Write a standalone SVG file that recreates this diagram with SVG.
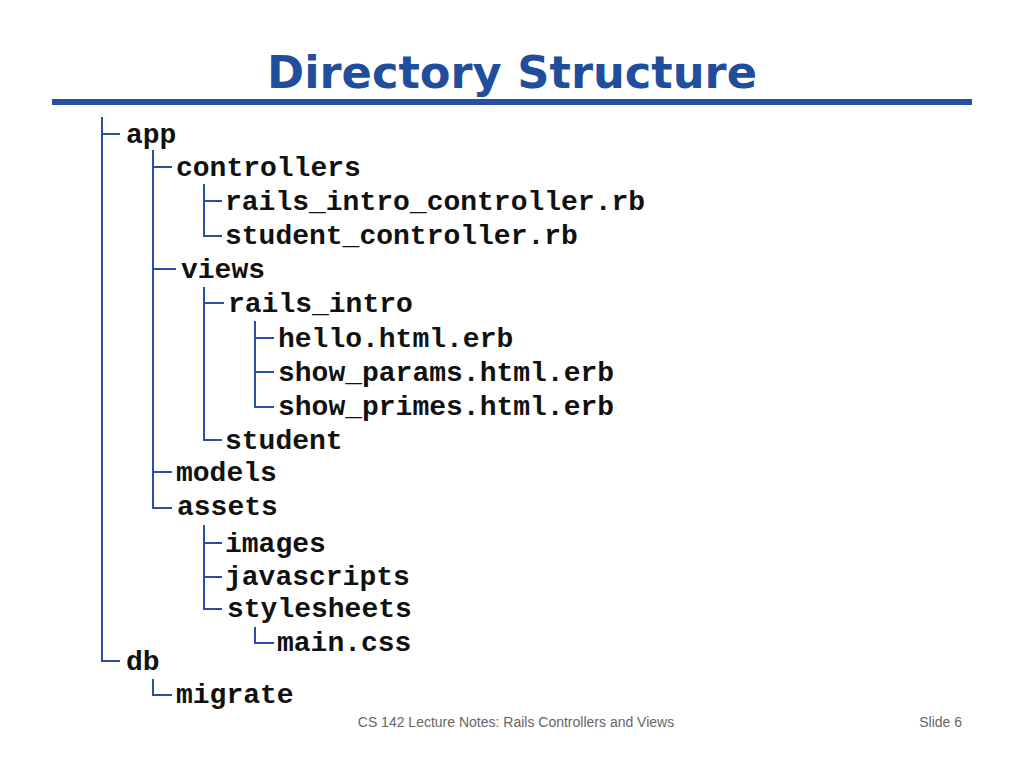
<svg xmlns="http://www.w3.org/2000/svg" width="1024" height="768" viewBox="0 0 1024 768">
<style>
.t{font-family:"Liberation Mono",monospace;font-weight:bold;font-size:28px;fill:#111}
.c{stroke:#2a4fa0;stroke-width:2;fill:none}
.f{font-family:"Liberation Sans",Arial,sans-serif;font-size:14px;fill:#666}
</style>
<rect width="1024" height="768" fill="#fff"/>
<text x="512" y="88" text-anchor="middle" font-family="DejaVu Sans,Verdana,sans-serif" font-weight="bold" font-size="44" fill="#1f4e9c" textLength="490" lengthAdjust="spacingAndGlyphs">Directory Structure</text>
<rect x="52" y="99" width="920" height="6" fill="#2a4fa0"/>
<g id="connectors" class="c">
<path d="M102 117V661H120M102 134H120"/>
<path d="M153 150V508H172M153 167H172M153 269H176M153 472H172"/>
<path d="M204 184V236H222M204 201H222"/>
<path d="M204 287V440H222M204 303H224"/>
<path d="M255 321V407H274M255 338H274M255 372H274"/>
<path d="M204 525V609H222M204 543H222M204 577H222"/>
<path d="M255 627V643H274"/>
<path d="M153 679V695H172"/>
</g>
<g id="n-app"><text class="t" x="126" y="143">app</text></g>
<g id="n-controllers"><text class="t" x="176" y="176">controllers</text></g>
<g id="n-ric"><text class="t" x="225" y="210">rails_intro_controller.rb</text></g>
<g id="n-sc"><text class="t" x="225" y="244">student_controller.rb</text></g>
<g id="n-views"><text class="t" x="181" y="278">views</text></g>
<g id="n-ri"><text class="t" x="228" y="312">rails_intro</text></g>
<g id="n-hello"><text class="t" x="278" y="347">hello.html.erb</text></g>
<g id="n-params"><text class="t" x="278" y="381">show_params.html.erb</text></g>
<g id="n-primes"><text class="t" x="278" y="415">show_primes.html.erb</text></g>
<g id="n-student"><text class="t" x="225" y="449">student</text></g>
<g id="n-models"><text class="t" x="176" y="481">models</text></g>
<g id="n-assets"><text class="t" x="177" y="515">assets</text></g>
<g id="n-images"><text class="t" x="225" y="552">images</text></g>
<g id="n-js"><text class="t" x="225" y="585">javascripts</text></g>
<g id="n-css"><text class="t" x="227" y="617">stylesheets</text></g>
<g id="n-main"><text class="t" x="277" y="651">main.css</text></g>
<g id="n-db"><text class="t" x="126" y="670">db</text></g>
<g id="n-migrate"><text class="t" x="176" y="703">migrate</text></g>
<text class="f" x="516" y="727" text-anchor="middle">CS 142 Lecture Notes: Rails Controllers and Views</text>
<text class="f" x="962" y="727" text-anchor="end">Slide 6</text>
</svg>
